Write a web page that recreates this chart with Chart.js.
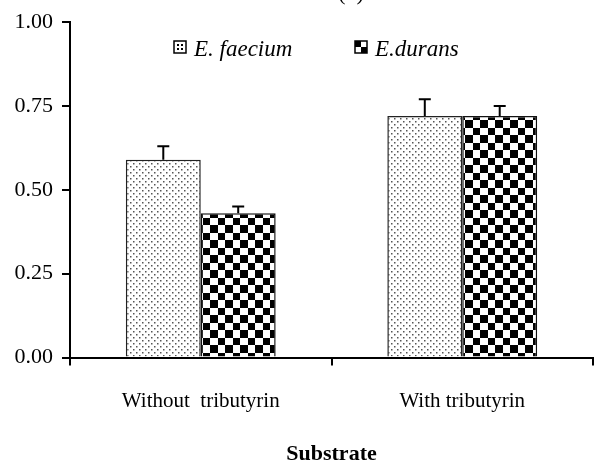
<!DOCTYPE html>
<html>
<head>
<meta charset="utf-8">
<script src="https://cdn.jsdelivr.net/npm/chart.js@4.4.1/dist/chart.umd.min.js"></script>
<style>
  body { margin: 0; background: #fff; }
  #wrap { width: 595px; height: 470px; position: relative; }
</style>
</head>
<body>
<div id="wrap"><canvas id="barChart"></canvas></div>
<script>
const categories = ['Without  tributyrin', 'With tributyrin'];
const seriesNames = ['E. faecium', 'E.durans'];
const faeciumValues = [0.59, 0.72];
const faeciumErrors = [0.04, 0.05];
const duransValues = [0.43, 0.72];
const duransErrors = [0.02, 0.03];
const yTicks = [0, 0.25, 0.5, 0.75, 1];
const panelLabel = '(b)';

const serif = "'Liberation Serif', 'Times New Roman', serif";

function dotPattern() {
    const c = document.createElement('canvas');
    c.width = 6; c.height = 6;
    const g = c.getContext('2d');
    g.fillStyle = '#fff';
    g.fillRect(0, 0, 6, 6);
    g.fillStyle = '#555';
    g.fillRect(1, 1, 1.5, 1.5);
    g.fillRect(4, 4, 1.5, 1.5);
    return g.createPattern(c, 'repeat');
}

function checkerPattern() {
    const c = document.createElement('canvas');
    c.width = 15; c.height = 15;
    const g = c.getContext('2d');
    g.fillStyle = '#fff';
    g.fillRect(0, 0, 15, 15);
    g.fillStyle = '#000';
    g.fillRect(0, 0, 8, 8);
    g.fillRect(8, 8, 7, 7);
    return g.createPattern(c, 'repeat');
}

const errorBars = {
    id: 'errorBars',
    afterDatasetsDraw(chart) {
        const ctx = chart.ctx;
        const y = chart.scales.y;
        ctx.save();
        ctx.strokeStyle = '#000';
        ctx.lineWidth = 2;
        chart.data.datasets.forEach((ds, i) => {
            chart.getDatasetMeta(i).data.forEach((bar, j) => {
                const top = y.getPixelForValue(ds.data[j] + ds.errors[j]);
                ctx.beginPath();
                ctx.moveTo(bar.x, bar.y);
                ctx.lineTo(bar.x, top);
                ctx.moveTo(bar.x - 6, top);
                ctx.lineTo(bar.x + 6, top);
                ctx.stroke();
            });
        });
        ctx.restore();
    }
};

const innerLegend = {
    id: 'innerLegend',
    afterDraw(chart) {
        const ctx = chart.ctx;
        const spots = [174, 355];
        ctx.save();
        ctx.font = 'italic 23px ' + serif;
        ctx.textBaseline = 'alphabetic';
        chart.data.datasets.forEach((ds, i) => {
            const bx = spots[i], by = 41, s = 12;
            ctx.fillStyle = '#fff';
            ctx.fillRect(bx, by, s, s);
            ctx.fillStyle = '#000';
            if (i === 0) {
                ctx.fillRect(bx + 3, by + 3, 2, 2);
                ctx.fillRect(bx + 7, by + 3, 2, 2);
                ctx.fillRect(bx + 3, by + 7, 2, 2);
                ctx.fillRect(bx + 7, by + 7, 2, 2);
            } else {
                ctx.fillRect(bx, by, s / 2, s / 2);
                ctx.fillRect(bx + s / 2, by + s / 2, s / 2, s / 2);
            }
            ctx.strokeStyle = '#000';
            ctx.lineWidth = 1.5;
            ctx.strokeRect(bx, by, s, s);
            ctx.fillStyle = '#000';
            ctx.fillText(ds.label, bx + s + 8, 56);
        });
        ctx.font = '22px ' + serif;
        ctx.textAlign = 'center';
        ctx.fillText(panelLabel, 351, 0);
        ctx.restore();
    }
};

const ctx = document.getElementById('barChart').getContext('2d');
const chart = new Chart(ctx, {
    type: 'bar',
    data: {
        labels: categories,
        datasets: [{
            label: seriesNames[0],
            data: faeciumValues,
            errors: faeciumErrors,
            backgroundColor: dotPattern(),
            borderColor: '#222',
            borderWidth: 1.5,
            borderSkipped: 'bottom'
        }, {
            label: seriesNames[1],
            data: duransValues,
            errors: duransErrors,
            backgroundColor: checkerPattern(),
            borderColor: '#111',
            borderWidth: 1.5,
            borderSkipped: 'bottom'
        }]
    },
    options: {
        responsive: true,
        maintainAspectRatio: false,
        animation: false,
        layout: { padding: { top: 18.5, right: 2, left: 0, bottom: 0 } },
        plugins: {
            legend: { display: false },
            tooltip: { enabled: false }
        },
        datasets: {
            bar: { categoryPercentage: 0.573, barPercentage: 1 }
        },
        scales: {
            x: {
                grid: { drawOnChartArea: false, drawTicks: true, tickLength: 8, color: '#000', lineWidth: 2, offset: true },
                border: { color: '#000', width: 2 },
                ticks: { color: '#000', padding: 23, font: { family: serif, size: 21 } },
                title: {
                    display: true,
                    text: 'Substrate',
                    color: '#000',
                    font: { family: serif, size: 22, weight: 'bold' },
                    padding: { top: 0, bottom: 2 }
                },
                afterFit(scale) { scale.height = 112.5; }
            },
            y: {
                min: 0,
                max: 1,
                afterBuildTicks(scale) { scale.ticks = yTicks.map(v => ({ value: v })); },
                grid: { drawOnChartArea: false, drawTicks: true, tickLength: 8, color: '#000', lineWidth: 2 },
                border: { color: '#000', width: 2 },
                ticks: {
                    color: '#000',
                    padding: 9,
                    font: { family: serif, size: 22 },
                    callback: v => v.toFixed(2)
                },
                afterFit(scale) { scale.width = 70; }
            }
        }
    },
    plugins: [errorBars, innerLegend]
});
</script>
</body>
</html>
